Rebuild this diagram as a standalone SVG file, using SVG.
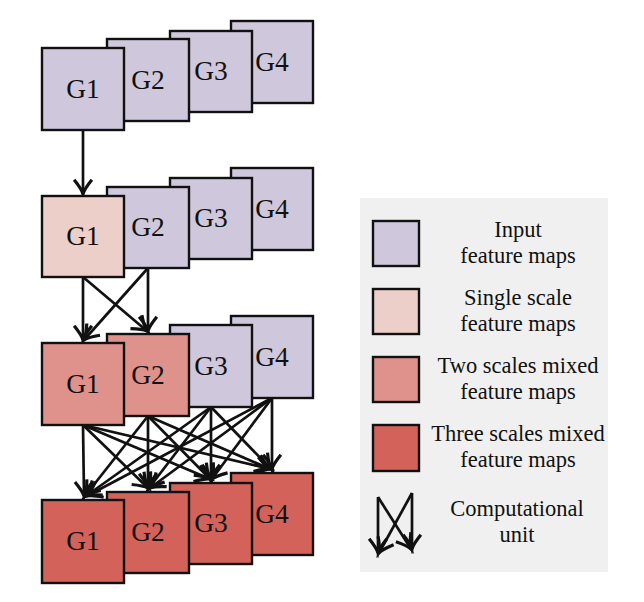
<svg xmlns="http://www.w3.org/2000/svg" width="644" height="602" viewBox="0 0 644 602">
<style>
.b{stroke:#111;stroke-width:2.4}
.in{fill:#cfc7dc}
.s1{fill:#edcfca}
.s2{fill:#df928c}
.s3{fill:#d3625b}
.g{font-family:"Liberation Serif","Times New Roman",serif;font-size:27.5px;fill:#111;text-anchor:middle}
.lt{font-family:"Liberation Serif","Times New Roman",serif;font-size:22.5px;fill:#111;text-anchor:middle}
.c{stroke:#111;stroke-width:2.7;fill:none;marker-end:url(#ah)}
</style>
<defs>
<marker id="ah" markerUnits="userSpaceOnUse" markerWidth="26" markerHeight="26" viewBox="-15 -11 17 22" refX="0" refY="0" orient="auto">
<path d="M -12,-7.5 C -7,-3.5 -3.5,-1 0,0 C -3.5,1 -7,3.5 -12,7.5" fill="none" stroke="#111" stroke-width="2.7"/>
</marker>
</defs>
<rect width="644" height="602" fill="#ffffff"/>

<g id="legend">
<rect x="360" y="198" width="248" height="374" fill="#f0f0f0"/>
<rect x="373" y="221" width="46" height="45" class="b in"/>
<text class="lt" x="518" y="237">Input</text>
<text class="lt" x="518" y="263">feature maps</text>
<rect x="373" y="289" width="46" height="45" class="b s1"/>
<text class="lt" x="518" y="305">Single scale</text>
<text class="lt" x="518" y="331">feature maps</text>
<rect x="373" y="357" width="46" height="45" class="b s2"/>
<text class="lt" x="518" y="373">Two scales mixed</text>
<text class="lt" x="518" y="399">feature maps</text>
<rect x="373" y="425" width="46" height="46" class="b s3"/>
<text class="lt" x="518" y="441">Three scales mixed</text>
<text class="lt" x="518" y="467">feature maps</text>
<g id="legend-unit">
<line class="c" x1="378" y1="497" x2="378" y2="553"/>
<line class="c" x1="378" y1="497" x2="411" y2="549"/>
<line class="c" x1="412" y1="493" x2="412" y2="549"/>
<line class="c" x1="412" y1="493" x2="379" y2="553"/>
</g>
<text class="lt" x="517" y="516">Computational</text>
<text class="lt" x="517" y="542">unit</text>
</g>

<g id="connectors">
<line class="c" x1="83" y1="130" x2="83" y2="194"/>
<line class="c" x1="83" y1="277" x2="83" y2="340"/>
<line class="c" x1="83" y1="277" x2="147" y2="331"/>
<line class="c" x1="148" y1="268" x2="84" y2="340"/>
<line class="c" x1="148" y1="268" x2="148" y2="331"/>
<line class="c" x1="83" y1="425" x2="84" y2="496"/>
<line class="c" x1="83" y1="425" x2="148" y2="488"/>
<line class="c" x1="83" y1="425" x2="210" y2="479"/>
<line class="c" x1="83" y1="425" x2="270" y2="469"/>
<line class="c" x1="148" y1="416" x2="85" y2="496"/>
<line class="c" x1="148" y1="416" x2="148" y2="488"/>
<line class="c" x1="148" y1="416" x2="210" y2="479"/>
<line class="c" x1="148" y1="416" x2="270" y2="469"/>
<line class="c" x1="211" y1="407" x2="86" y2="496"/>
<line class="c" x1="211" y1="407" x2="149" y2="488"/>
<line class="c" x1="211" y1="407" x2="211" y2="479"/>
<line class="c" x1="211" y1="407" x2="271" y2="469"/>
<line class="c" x1="272" y1="398" x2="87" y2="496"/>
<line class="c" x1="272" y1="398" x2="150" y2="488"/>
<line class="c" x1="272" y1="398" x2="212" y2="479"/>
<line class="c" x1="272" y1="398" x2="272" y2="469"/>
</g>

<g id="row1">
<g id="r1g4"><rect x="231" y="21" width="82" height="82" class="b in"/><text class="g" x="272" y="71">G4</text></g>
<g id="r1g3"><rect x="170" y="31" width="82" height="81" class="b in"/><text class="g" x="211" y="80">G3</text></g>
<g id="r1g2"><rect x="107" y="39" width="82" height="82" class="b in"/><text class="g" x="148" y="89">G2</text></g>
<g id="r1g1"><rect x="42" y="48" width="82" height="82" class="b in"/><text class="g" x="83" y="98">G1</text></g>
</g>

<g id="row2">
<g id="r2g4"><rect x="231" y="168" width="82" height="82" class="b in"/><text class="g" x="272" y="218">G4</text></g>
<g id="r2g3"><rect x="170" y="178" width="82" height="81" class="b in"/><text class="g" x="211" y="227">G3</text></g>
<g id="r2g2"><rect x="107" y="187" width="82" height="81" class="b in"/><text class="g" x="148" y="236">G2</text></g>
<g id="r2g1"><rect x="42" y="196" width="82" height="81" class="b s1"/><text class="g" x="83" y="245">G1</text></g>
</g>

<g id="row3">
<g id="r3g4"><rect x="231" y="316" width="82" height="82" class="b in"/><text class="g" x="272" y="366">G4</text></g>
<g id="r3g3"><rect x="170" y="325" width="82" height="82" class="b in"/><text class="g" x="211" y="375">G3</text></g>
<g id="r3g2"><rect x="107" y="334" width="82" height="82" class="b s2"/><text class="g" x="148" y="384">G2</text></g>
<g id="r3g1"><rect x="42" y="343" width="82" height="82" class="b s2"/><text class="g" x="83" y="393">G1</text></g>
</g>

<g id="row4">
<g id="r4g4"><rect x="231" y="473" width="82" height="82" class="b s3"/><text class="g" x="272" y="523">G4</text></g>
<g id="r4g3"><rect x="170" y="483" width="82" height="81" class="b s3"/><text class="g" x="211" y="532">G3</text></g>
<g id="r4g2"><rect x="107" y="492" width="82" height="81" class="b s3"/><text class="g" x="148" y="541">G2</text></g>
<g id="r4g1"><rect x="42" y="500" width="82" height="83" class="b s3"/><text class="g" x="83" y="550">G1</text></g>
</g>
</svg>
